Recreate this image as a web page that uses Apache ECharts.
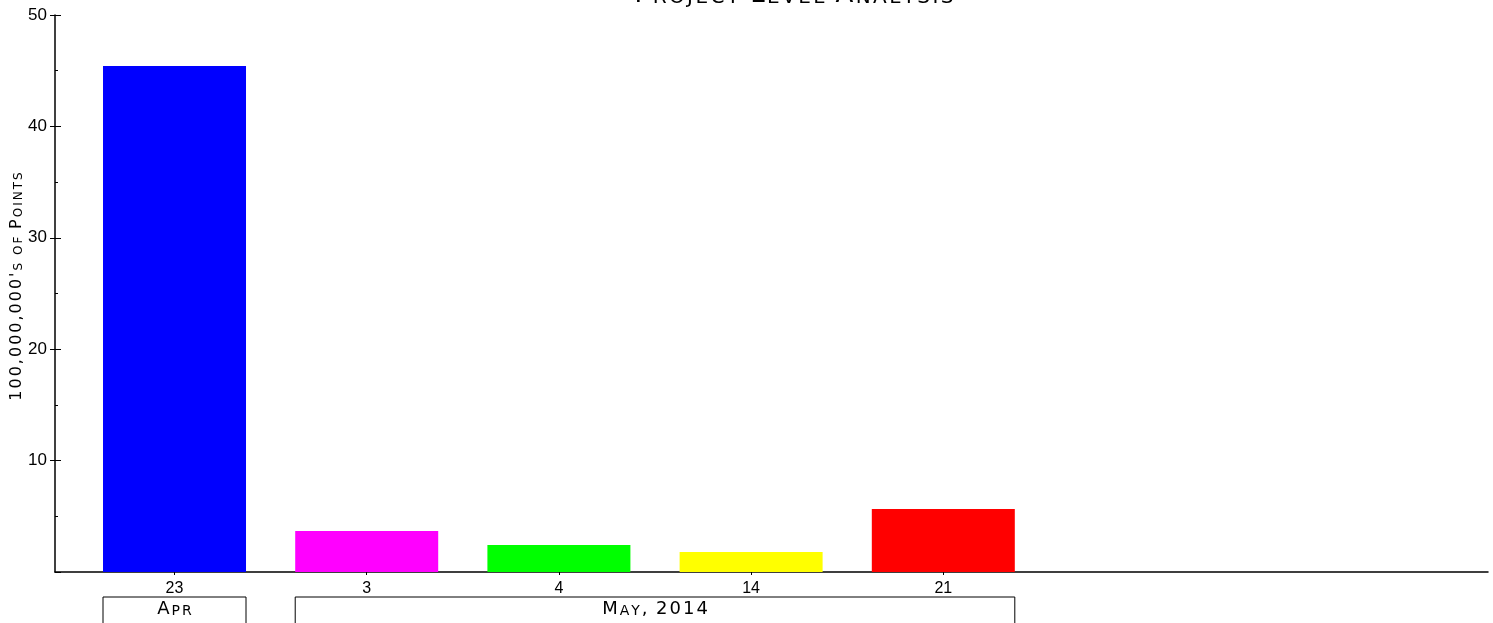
<!DOCTYPE html>
<html>
<head>
<meta charset="utf-8">
<script src="https://cdn.jsdelivr.net/npm/echarts@6/dist/echarts.min.js"></script>
<style>
html,body{margin:0;padding:0;background:#fff;}
#main{width:1493px;height:623px;}
</style>
</head>
<body>
<div id="main"></div>
<script>
// data
var days = ['23', '3', '4', '14', '21'];
var points = [45.42, 3.68, 2.42, 1.8, 5.66];
var barColors = ['#0000ff', '#ff00ff', '#00ff00', '#ffff00', '#ff0000'];
var groupNames = ['Apr', 'May, 2014'];
var groupStart = [0, 1];
var groupEnd = [0, 4];

var FONT = 'Liberation Sans, Arial, sans-serif';
var CAPS_FONT = 'DejaVu Sans, sans-serif';
var BAR_W = 143;

// small caps as rich text: lower case letters drawn as smaller capitals,
// one token per char so the letters can be spread a bit
function smallCaps(txt){
    var out = '';
    for(var i=0;i<txt.length;i++){
        var c = txt[i];
        if(c>='a' && c<='z'){
            out += '{s|' + c.toUpperCase() + '}';
        }else if(c==' '){
            out += '{s| }';
        }else{
            out += '{b|' + c + '}';
        }
    }
    return out;
}
function capsRich(big, small, gap){
    return {
        b: {fontSize: big, fontFamily: CAPS_FONT, fontWeight: 'normal', color: '#000', verticalAlign: 'bottom', padding: [0, gap, 0, gap]},
        s: {fontSize: small, fontFamily: CAPS_FONT, fontWeight: 'normal', color: '#000', verticalAlign: 'bottom', padding: [0, gap, 0, gap]}
    };
}

var idx = [];
for(var i=0;i<days.length;i++){ idx.push(i); }

var barData = [];
for(var i=0;i<days.length;i++){
    barData.push({value: [i, points[i]], itemStyle: {color: barColors[i]}});
}

var myChart = echarts.init(document.getElementById('main'));
var option = {
    animation: false,
    backgroundColor: '#fff',
    title: {
        text: smallCaps('Project Level Analysis'),
        left: 789,
        top: -23,
        textAlign: 'center',
        textStyle: {fontWeight: 'normal', rich: capsRich(26, 20, 1.2)}
    },
    grid: {left: 55, right: 5, top: 15, bottom: 51, outerBoundsMode: 'none', containLabel: false},
    xAxis: [
        {
            type: 'value',
            min: -0.6218,
            max: 6.834,
            axisLine: {onZero: false, lineStyle: {color: '#000', width: 1.5}},
            splitLine: {show: false},
            axisTick: {customValues: idx, length: 3, lineStyle: {color: '#000'}},
            axisLabel: {
                customValues: idx,
                margin: 9,
                fontSize: 16,
                fontFamily: FONT,
                color: '#000',
                formatter: function(v){ return days[Math.round(v)]; }
            }
        },
        {
            type: 'value',
            min: -0.6218,
            max: 6.834,
            position: 'bottom',
            axisLine: {show: false, onZero: false},
            splitLine: {show: false},
            axisLabel: {show: false},
            axisTick: {customValues: idx, inside: true, length: 2, lineStyle: {color: '#000'}}
        }
    ],
    yAxis: [
        {
            type: 'value',
            min: 0,
            max: 50,
            interval: 10,
            axisLine: {show: true, onZero: false, lineStyle: {color: '#000', width: 1.5}},
            splitLine: {show: false},
            axisTick: {show: true, length: 5, lineStyle: {color: '#000'}},
            axisLabel: {
                showMinLabel: false,
                margin: 8,
                fontSize: 17,
                fontFamily: FONT,
                color: '#000'
            },
            name: smallCaps("100,000,000's of Points"),
            nameLocation: 'middle',
            nameGap: 30,
            nameMoveOverlap: false,
            nameTextStyle: {fontWeight: 'normal', padding: [0, 0, 0, 14], rich: capsRich(16, 12, 1)}
        },
        {
            type: 'value',
            min: 0,
            max: 50,
            interval: 10,
            position: 'left',
            axisLine: {show: false, onZero: false},
            splitLine: {show: false},
            axisLabel: {show: false},
            axisTick: {show: true, inside: true, length: 6, lineStyle: {color: '#000'}},
            minorTick: {show: true, splitNumber: 2, length: 3, lineStyle: {color: '#000'}}
        }
    ],
    series: [
        {
            type: 'bar',
            xAxisIndex: 0,
            yAxisIndex: 0,
            barWidth: BAR_W,
            data: barData
        }
    ]
};
myChart.setOption(option);

// group brackets under the day labels
function drawBrackets(){
    var yTop = myChart.convertToPixel({yAxisIndex: 0}, 0) + 25;
    var els = [];
    for(var g=0; g<groupNames.length; g++){
        var x1 = myChart.convertToPixel({xAxisIndex: 0}, groupStart[g]) - BAR_W/2;
        var x2 = myChart.convertToPixel({xAxisIndex: 0}, groupEnd[g]) + BAR_W/2;
        els.push({
            type: 'polyline',
            shape: {points: [[x1, yTop + 40], [x1, yTop], [x2, yTop], [x2, yTop + 40]]},
            style: {stroke: '#000', lineWidth: 1, fill: null},
            silent: true
        });
        els.push({
            type: 'text',
            x: (x1 + x2) / 2,
            y: yTop + 3,
            style: {
                text: smallCaps(groupNames[g]),
                rich: capsRich(18, 14, 1),
                align: 'center',
                verticalAlign: 'top'
            },
            silent: true
        });
    }
    myChart.setOption({graphic: els});
}
drawBrackets();
window.onresize = function(){ myChart.resize(); drawBrackets(); };
</script>
</body>
</html>
